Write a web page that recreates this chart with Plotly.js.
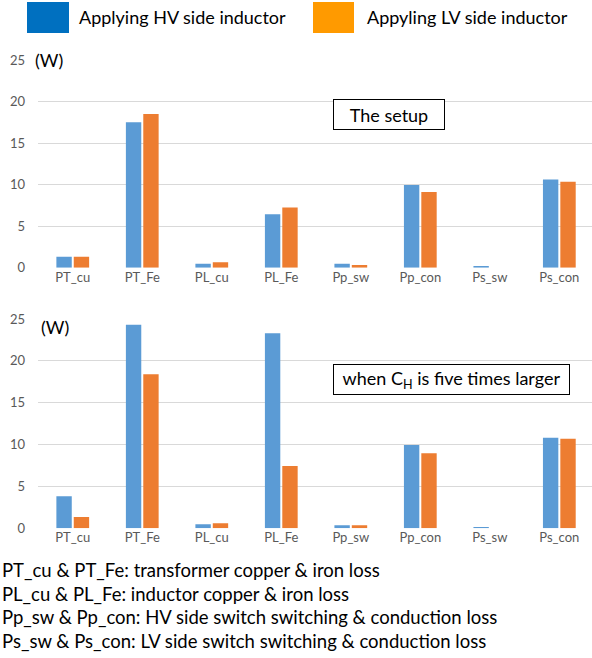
<!DOCTYPE html>
<html>
<head>
<meta charset="utf-8">
<script src="https://cdn.plot.ly/plotly-3.0.1.min.js"></script>
<style>html,body{margin:0;padding:0;background:#fff;}#chart{width:592px;height:658px;}</style>
</head>
<body>
<div id="chart"></div>
<script>
const categories = ["PT_cu", "PT_Fe", "PL_cu", "PL_Fe", "Pp_sw", "Pp_con", "Ps_sw", "Ps_con"];
const setupHV = [1.32, 17.5, 0.48, 6.42, 0.48, 9.94, 0.2, 10.62];
const setupLV = [1.32, 18.5, 0.65, 7.26, 0.32, 9.1, 0.0, 10.34];
const largeHV = [3.82, 24.3, 0.48, 23.3, 0.36, 9.95, 0.16, 10.82];
const largeLV = [1.35, 18.4, 0.6, 7.44, 0.36, 8.96, 0.0, 10.7];
const legendNames = ["Applying HV side inductor", "Appyling LV side inductor"];
const panelNotes = ["The setup", "when C<sub>H</sub> is five times larger"];
const footnotes = [
  "PT_cu & PT_Fe: transformer copper & iron loss",
  "PL_cu & PL_Fe: inductor copper & iron loss",
  "Pp_sw & Pp_con: HV side switch switching & conduction loss",
  "Ps_sw & Ps_con: LV side switch switching & conduction loss"
];
const yTicks = [0, 5, 10, 15, 20, 25];

const W = 592, H = 658;
const px = x => x / W;
const py = y => 1 - y / H;

const barBlue = "#5B9BD5", barOrange = "#ED7D31";
const legBlue = "#0070C0", legOrange = "#FF9A00";
const FONT = "Lato, 'Open Sans', sans-serif";

const traces = [
  {type: "bar", x: categories, y: setupHV, marker: {color: barBlue}, xaxis: "x", yaxis: "y", name: legendNames[0]},
  {type: "bar", x: categories, y: setupLV, marker: {color: barOrange}, xaxis: "x", yaxis: "y", name: legendNames[1]},
  {type: "bar", x: categories, y: largeHV, marker: {color: barBlue}, xaxis: "x2", yaxis: "y2", name: legendNames[0]},
  {type: "bar", x: categories, y: largeLV, marker: {color: barOrange}, xaxis: "x2", yaxis: "y2", name: legendNames[1]}
];

const xaxisBase = {
  type: "category", range: [-0.5, 7.47], domain: [px(38), 1],
  showgrid: false, zeroline: false, showline: false, ticks: "",
  tickfont: {family: FONT, size: 13, color: "#595959"}, fixedrange: true
};
const yaxisBase = {
  range: [0, 25], tickvals: yTicks, showgrid: true, gridcolor: "#d9d9d9", gridwidth: 1,
  zeroline: false, showline: false, ticks: "", ticklabelstandoff: 12,
  tickfont: {family: FONT, size: 13, color: "#595959"}, fixedrange: true
};

const layout = {
  width: W, height: H,
  margin: {l: 0, r: 0, t: 0, b: 0},
  paper_bgcolor: "#fff", plot_bgcolor: "#fff",
  showlegend: false,
  barmode: "group", bargap: 0.5, bargroupgap: 0.115,
  font: {family: FONT},
  xaxis: Object.assign({}, xaxisBase, {anchor: "y"}),
  yaxis: Object.assign({}, yaxisBase, {domain: [py(267.7), py(60)], anchor: "x"}),
  xaxis2: Object.assign({}, xaxisBase, {anchor: "y2"}),
  yaxis2: Object.assign({}, yaxisBase, {domain: [py(528.3), py(319)], anchor: "x2"}),
  shapes: [
    {type: "rect", xref: "paper", yref: "paper", x0: px(27), x1: px(69), y0: py(33), y1: py(2), fillcolor: legBlue, line: {width: 0}},
    {type: "rect", xref: "paper", yref: "paper", x0: px(313), x1: px(354), y0: py(33), y1: py(2), fillcolor: legOrange, line: {width: 0}},
    {type: "rect", xref: "paper", yref: "paper", x0: px(36), x1: px(69), y0: py(62), y1: py(58), fillcolor: "#fff", line: {width: 0}, layer: "above"},
    {type: "rect", xref: "paper", yref: "paper", x0: px(36), x1: px(76), y0: py(321), y1: py(317), fillcolor: "#fff", line: {width: 0}, layer: "above"}
  ],
  annotations: [
    {xref: "paper", yref: "paper", x: px(77), y: py(17.5), xanchor: "left", yanchor: "middle", text: legendNames[0], showarrow: false, font: {family: FONT, size: 18, color: "#000"}},
    {xref: "paper", yref: "paper", x: px(365), y: py(17.5), xanchor: "left", yanchor: "middle", text: legendNames[1], showarrow: false, font: {family: FONT, size: 18, color: "#000"}},
    {xref: "paper", yref: "paper", x: px(33), y: py(60), xanchor: "left", yanchor: "middle", text: "(W)", showarrow: false, font: {family: FONT, size: 18, color: "#000"}},
    {xref: "paper", yref: "paper", x: px(39), y: py(327), xanchor: "left", yanchor: "middle", text: "(W)", showarrow: false, font: {family: FONT, size: 18, color: "#000"}},
    {xref: "paper", yref: "paper", x: px(389), y: py(114.5), xanchor: "center", yanchor: "middle", text: panelNotes[0], showarrow: false,
     width: 108, height: 27, bgcolor: "#fff", bordercolor: "#000", borderwidth: 1, borderpad: 1, font: {family: FONT, size: 18, color: "#000"}},
    {xref: "paper", yref: "paper", x: px(451.5), y: py(379.5), xanchor: "center", yanchor: "middle", text: panelNotes[1], showarrow: false,
     width: 233, height: 27, bgcolor: "#fff", bordercolor: "#000", borderwidth: 1, borderpad: 1, font: {family: FONT, size: 18, color: "#000"}}
  ].concat(footnotes.map((t, i) => ({
    xref: "paper", yref: "paper", x: 0, y: py(570 + i * 23.7), xanchor: "left", yanchor: "middle",
    text: t, showarrow: false, font: {family: FONT, size: 18.5, color: "#000"}
  })))
};

Plotly.newPlot("chart", traces, layout, {displayModeBar: false, staticPlot: true});
</script>
</body>
</html>
